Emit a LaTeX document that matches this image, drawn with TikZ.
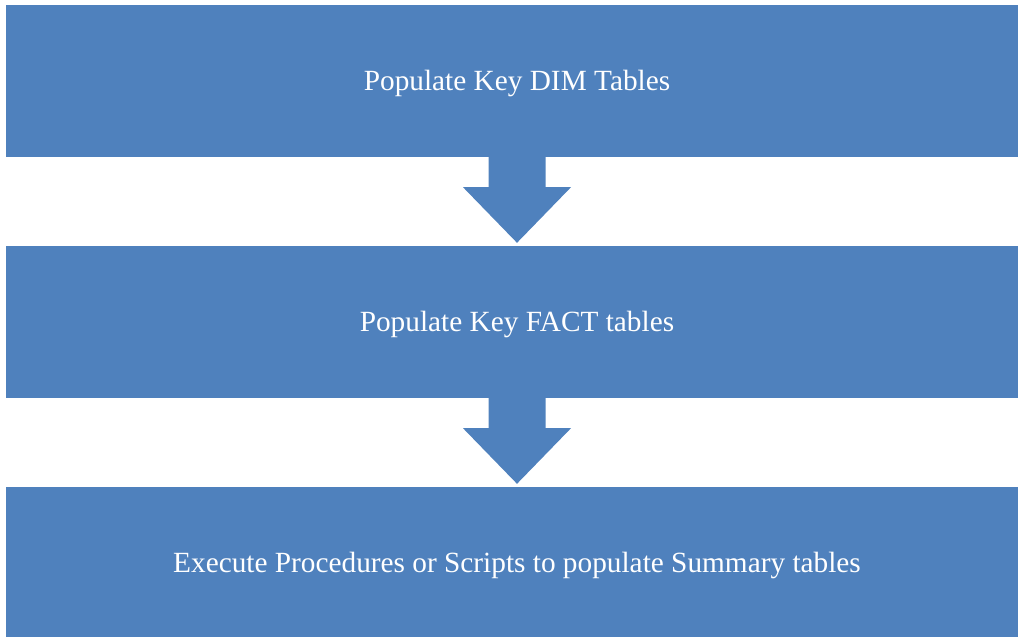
\documentclass[tikz,border=0pt]{standalone}
\usepackage{fontspec}
\setmainfont{Liberation Serif}
\usetikzlibrary{calc}
\definecolor{stepblue}{HTML}{4F81BD}
\tikzset{
  stepbox/.style={rectangle, fill=stepblue, text=white, inner sep=0pt,
    minimum width=1022pt, minimum height=152pt,
    text height=24pt, text depth=6pt,
    font=\fontsize{29.3}{35}\selectfont},
  downarrow/.style={fill=stepblue}
}
\begin{document}
\begin{tikzpicture}[x=1pt, y=1pt]
		\useasboundingbox (0,0) rectangle (1018,-637);
		\node[stepbox] (DIM) at (517,-81) {Populate Key DIM Tables};
		\node[stepbox] (FACT) at (517,-322) {Populate Key FACT tables};
		\node[stepbox] (SUM) at (517,-563) {Execute Procedures or Scripts to populate Summary tables};
		
		% block arrows between the steps
		\fill[downarrow] ($(DIM.south)+(-28.5,0)$) -- ++(0,-30) -- ++(-25.5,0)
			-- ($(FACT.north)+(0,3)$) -- ($(DIM.south)+(54,-30)$) -- ++(-25.5,0)
			-- ($(DIM.south)+(28.5,0)$) -- cycle;
		\fill[downarrow] ($(FACT.south)+(-28.5,0)$) -- ++(0,-30) -- ++(-25.5,0)
			-- ($(SUM.north)+(0,3)$) -- ($(FACT.south)+(54,-30)$) -- ++(-25.5,0)
			-- ($(FACT.south)+(28.5,0)$) -- cycle;
		\end{tikzpicture}
\end{document}
